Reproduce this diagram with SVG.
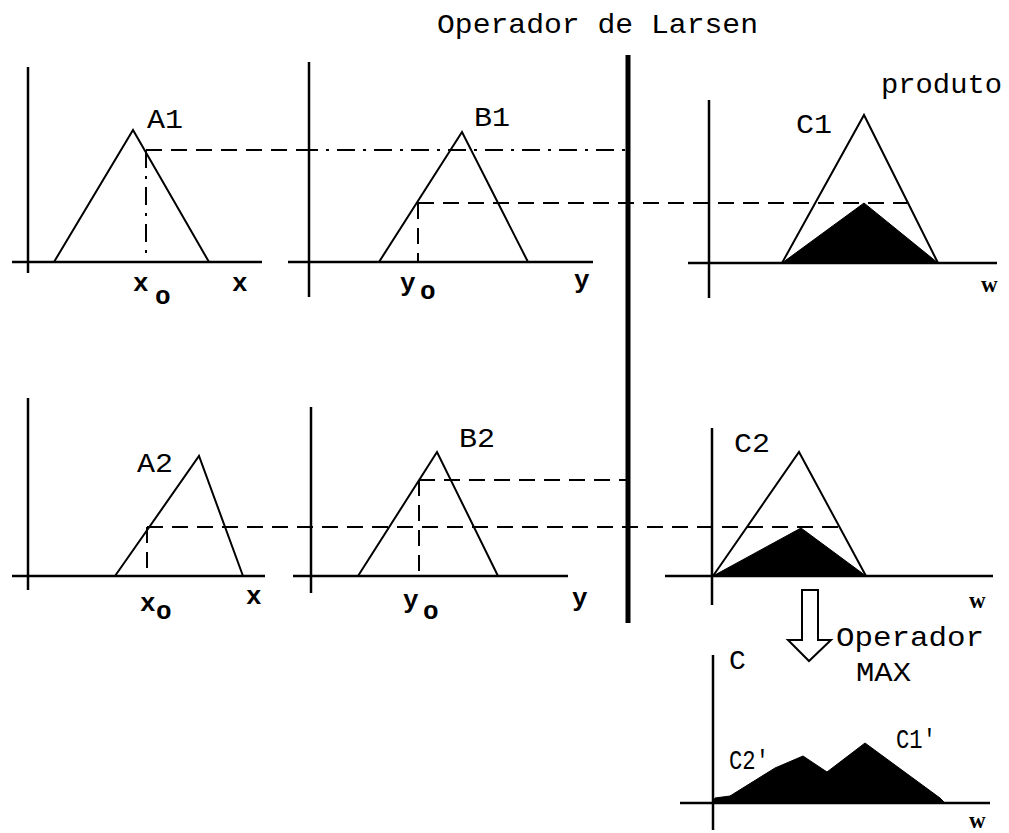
<svg xmlns="http://www.w3.org/2000/svg" width="1009" height="833" viewBox="0 0 1009 833">
<style>
.ax{stroke:#000;stroke-width:2.5;fill:none}
.tri{stroke:#000;stroke-width:2;fill:none;stroke-linejoin:miter}
.fill{fill:#000;stroke:#000;stroke-width:1}
.dash{stroke:#000;stroke-width:2;fill:none;stroke-dasharray:16,9}
.dd{stroke:#000;stroke-width:2;fill:none;stroke-dasharray:18,8,3,8}
.t{font-family:"Liberation Mono","DejaVu Sans Mono",monospace;font-size:28px;fill:#000}
.s{font-family:"Liberation Mono","DejaVu Sans Mono",monospace;font-size:26px;fill:#000;font-weight:bold}
.w{font-family:"Liberation Serif","DejaVu Serif",serif;font-size:23px;fill:#000;font-weight:bold}
</style>
<rect width="1009" height="833" fill="#fff"/>
<text class="t" x="437" y="33" textLength="321" lengthAdjust="spacingAndGlyphs">Operador de Larsen</text>
<text class="t" x="881" y="93" textLength="121" lengthAdjust="spacingAndGlyphs">produto</text>

<g id="A1">
<line class="ax" x1="28" y1="67" x2="28" y2="273"/>
<line class="ax" x1="12" y1="262" x2="262" y2="262"/>
<polyline class="tri" points="54,262 133,130 209,262"/>
<text class="t" x="147" y="128" textLength="36" lengthAdjust="spacingAndGlyphs">A1</text>
<text class="s" x="133" y="291">x</text>
<text class="s" x="155" y="304">o</text>
<text class="s" x="232" y="291">x</text>
</g>

<g id="B1">
<line class="ax" x1="309" y1="62" x2="309" y2="297"/>
<line class="ax" x1="288" y1="262" x2="593" y2="262"/>
<polyline class="tri" points="379,262 462,132 528,262"/>
<text class="t" x="474" y="126" textLength="36" lengthAdjust="spacingAndGlyphs">B1</text>
<text class="s" x="400" y="291">y</text>
<text class="s" x="420" y="299">o</text>
<text class="s" x="574" y="288">y</text>
</g>

<g id="C1">
<line class="ax" x1="709" y1="100" x2="709" y2="298"/>
<line class="ax" x1="688" y1="263" x2="997" y2="263"/>
<polygon class="fill" points="782,263 864,203 938,263"/>
<polyline class="tri" points="782,263 864,115 938,263"/>
<text class="t" x="796" y="133" textLength="36" lengthAdjust="spacingAndGlyphs">C1</text>
<text class="w" x="981" y="292">w</text>
</g>

<g id="A2">
<line class="ax" x1="28" y1="398" x2="28" y2="590"/>
<line class="ax" x1="12" y1="576" x2="265" y2="576"/>
<polyline class="tri" points="115,576 199,456 243,576"/>
<text class="t" x="137" y="472" textLength="36" lengthAdjust="spacingAndGlyphs">A2</text>
<text class="s" x="140" y="611">x</text>
<text class="s" x="156" y="619">o</text>
<text class="s" x="246" y="604">x</text>
</g>

<g id="B2">
<line class="ax" x1="311" y1="407" x2="311" y2="593"/>
<line class="ax" x1="293" y1="576" x2="568" y2="576"/>
<polyline class="tri" points="358,576 437,452 498,576"/>
<text class="t" x="459" y="447" textLength="36" lengthAdjust="spacingAndGlyphs">B2</text>
<text class="s" x="403" y="608">y</text>
<text class="s" x="423" y="619">o</text>
<text class="s" x="572" y="606">y</text>
</g>

<g id="C2">
<line class="ax" x1="712" y1="428" x2="712" y2="605"/>
<line class="ax" x1="665" y1="576" x2="993" y2="576"/>
<polygon class="fill" points="713,576 801,528 866,576"/>
<polyline class="tri" points="713,576 799,452 866,576"/>
<text class="t" x="734" y="452" textLength="36" lengthAdjust="spacingAndGlyphs">C2</text>
<text class="w" x="969" y="608">w</text>
</g>

<g id="arrow">
<path d="M802,590 L818,590 L818,640 L831,640 L809,661 L788,640 L802,640 Z" fill="#fff" stroke="#000" stroke-width="2"/>
<text class="t" x="836" y="646" textLength="148" lengthAdjust="spacingAndGlyphs">Operador</text>
<text class="t" x="856" y="681" textLength="55" lengthAdjust="spacingAndGlyphs">MAX</text>
</g>

<g id="C">
<line class="ax" x1="713" y1="655" x2="713" y2="830"/>
<line class="ax" x1="680" y1="803" x2="990" y2="803"/>
<polygon class="fill" points="713,803 715,798 730,796 775,768 803,756 827,772 865,743 940,798 945,803"/>
<text class="t" x="729" y="669">C</text>
<text class="t" x="729" y="769" textLength="40" lengthAdjust="spacingAndGlyphs">C2'</text>
<text class="t" x="896" y="748" textLength="40" lengthAdjust="spacingAndGlyphs">C1'</text>
<text class="w" x="969" y="828">w</text>
</g>

<g id="connectors">
<line x1="628" y1="55" x2="628" y2="623" stroke="#000" stroke-width="5"/>
<line class="dash" x1="146" y1="150" x2="300" y2="150"/>
<line class="dd" x1="300" y1="150" x2="628" y2="150"/>
<line class="dd" x1="146" y1="150" x2="146" y2="262"/>
<line class="dash" x1="418" y1="203" x2="907" y2="203"/>
<line class="dash" x1="418" y1="203" x2="418" y2="262"/>
<line class="dash" x1="419" y1="480" x2="628" y2="480"/>
<line class="dash" x1="419" y1="480" x2="419" y2="576"/>
<line class="dash" x1="147" y1="527" x2="839" y2="527"/>
<line class="dash" x1="147" y1="527" x2="147" y2="576"/>
</g>
</svg>
